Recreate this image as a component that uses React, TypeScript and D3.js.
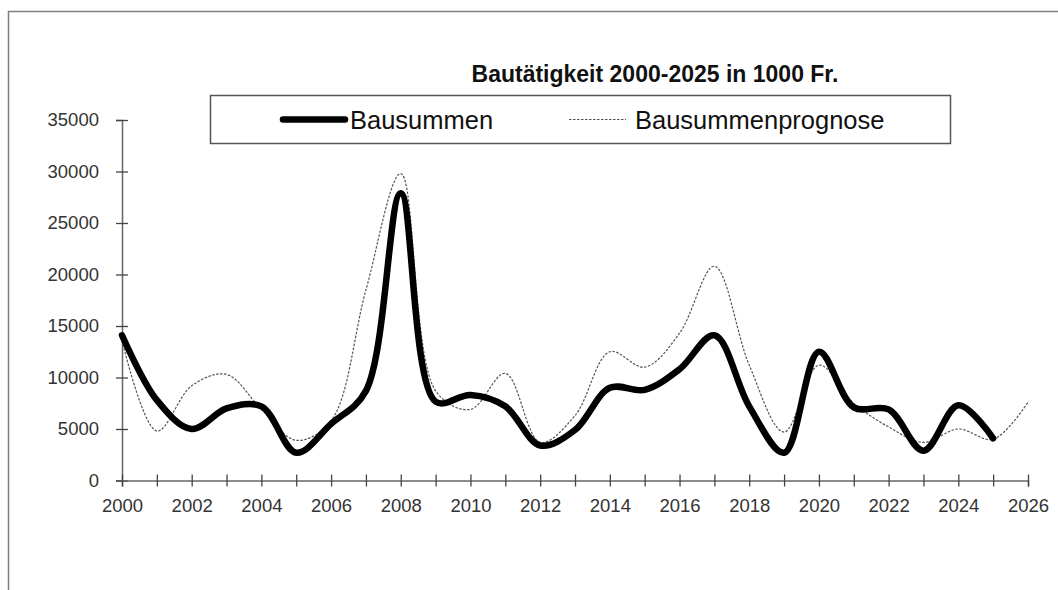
import React, { useEffect, useRef } from 'react';
import * as d3 from 'd3';

const years = [2000, 2001, 2002, 2003, 2004, 2005, 2006, 2007, 2008, 2009, 2010, 2011, 2012, 2013,
  2014, 2015, 2016, 2017, 2018, 2019, 2020, 2021, 2022, 2023, 2024, 2025, 2026];

// Bausummen 2000-2025
const bausummen = [14100, 7800, 5000, 7000, 7200, 2700, 5500, 8700, 27900, 7650, 8300, 7200, 3400,
  4900, 9000, 8800, 10800, 14100, 7200, 2700, 12500, 7100, 6900, 2900, 7300, 4100];

// Bausummenprognose 2000-2026
const prognose = [13600, 4800, 9200, 10300, 6900, 3900, 5800, 18500, 29800, 8700, 6900, 10400, 3700,
  6300, 12500, 11000, 14300, 20800, 11200, 4700, 11200, 7500, 5200, 3700, 5000, 4000, 7600];

const yTicks = [0, 5000, 10000, 15000, 20000, 25000, 30000, 35000];

const title = 'Bautätigkeit 2000-2025 in 1000 Fr.';
const seriesNames = ['Bausummen', 'Bausummenprognose'];

const font = '"Liberation Sans", Arial, sans-serif';

export default function App() {
  const ref = useRef<SVGSVGElement | null>(null);

  useEffect(() => {
    const width = 1058;
    const height = 590;
    const svg = d3.select(ref.current);
    svg.selectAll('*').remove();
    svg.attr('width', width).attr('height', height);

    svg.append('rect')
      .attr('width', width).attr('height', height)
      .attr('fill', '#fff');

    // outer frame
    svg.append('rect')
      .attr('x', 8.5).attr('y', 11.5)
      .attr('width', 1200).attr('height', 800)
      .attr('fill', 'none')
      .attr('stroke', '#7f7f7f')
      .attr('stroke-width', 1.5);

    const x = d3.scaleLinear().domain([2000, 2026]).range([122, 1028]);
    const y = d3.scaleLinear().domain([0, 35000]).range([480.5, 120]);

    // y axis
    const yAxis = svg.append('g')
      .attr('transform', 'translate(122,0)')
      .call(d3.axisLeft(y).tickValues(yTicks).tickSize(6).tickPadding(17).tickFormat(d => String(d)));
    yAxis.select('.domain').attr('stroke', '#666').attr('stroke-width', 1.5);
    yAxis.selectAll('.tick line').attr('x1', -6).attr('x2', 6).attr('stroke', '#444').attr('stroke-width', 1.3);
    yAxis.selectAll('.tick text')
      .attr('font-family', font).attr('font-size', 18.5).attr('fill', '#333');

    // x axis
    const xAxis = svg.append('g')
      .attr('transform', `translate(0,${y(0)})`)
      .call(d3.axisBottom(x).tickValues(years).tickSize(6).tickPadding(12)
        .tickFormat(d => (+d % 2 === 0 ? String(d) : '')));
    xAxis.select('.domain').attr('stroke', '#666').attr('stroke-width', 1.5);
    xAxis.selectAll('.tick line').attr('y1', -6).attr('y2', 6).attr('stroke', '#444').attr('stroke-width', 1.3);
    xAxis.selectAll('.tick text')
      .attr('font-family', font).attr('font-size', 18.5).attr('fill', '#333');

    const line = d3.line<number>()
      .x((d, i) => x(years[i]))
      .y(d => y(d))
      .curve(d3.curveCatmullRom.alpha(0.5));

    svg.append('path')
      .datum(prognose)
      .attr('d', line)
      .attr('fill', 'none')
      .attr('stroke', '#555')
      .attr('stroke-width', 1.2)
      .attr('stroke-dasharray', '2.5,1.5');

    svg.append('path')
      .datum(bausummen)
      .attr('d', line)
      .attr('fill', 'none')
      .attr('stroke', '#000')
      .attr('stroke-width', 6.5)
      .attr('stroke-linejoin', 'round')
      .attr('stroke-linecap', 'round');

    // title
    svg.append('text')
      .attr('x', 655).attr('y', 82)
      .attr('text-anchor', 'middle')
      .attr('font-family', font)
      .attr('font-weight', 'bold')
      .attr('font-size', 23)
      .attr('fill', '#111')
      .text(title);

    // legend
    const lg = svg.append('g');
    lg.append('rect')
      .attr('x', 210.5).attr('y', 95.5)
      .attr('width', 740).attr('height', 48)
      .attr('fill', '#fff')
      .attr('stroke', '#555')
      .attr('stroke-width', 1.5);
    lg.append('line')
      .attr('x1', 283).attr('x2', 345).attr('y1', 119.5).attr('y2', 119.5)
      .attr('stroke', '#000').attr('stroke-width', 6.5).attr('stroke-linecap', 'round');
    lg.append('text')
      .attr('x', 350).attr('y', 128.5)
      .attr('font-family', font).attr('font-size', 25.5).attr('fill', '#111')
      .text(seriesNames[0]);
    lg.append('line')
      .attr('x1', 569).attr('x2', 626).attr('y1', 119.5).attr('y2', 119.5)
      .attr('stroke', '#555').attr('stroke-width', 1.2).attr('stroke-dasharray', '2.5,1.5');
    lg.append('text')
      .attr('x', 635).attr('y', 128.5)
      .attr('font-family', font).attr('font-size', 25.5).attr('fill', '#111')
      .text(seriesNames[1]);
  }, []);

  return (
    <div style={{ position: 'absolute', left: 0, top: 0 }}>
      <svg ref={ref} style={{ display: 'block' }}></svg>
    </div>
  );
}
